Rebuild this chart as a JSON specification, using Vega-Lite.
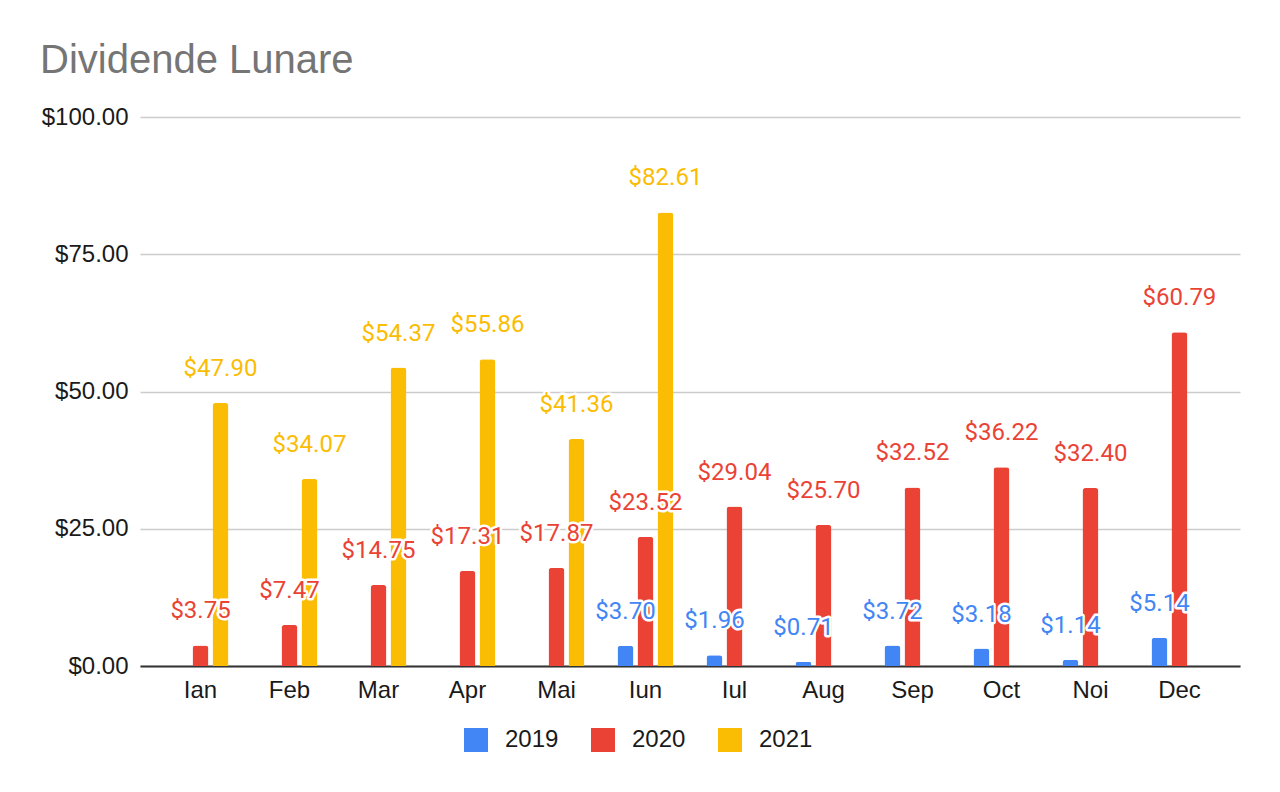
{
  "$schema": "https://vega.github.io/schema/vega-lite/v6.json",
  "width": 1100,
  "height": 549,
  "autosize": {"type": "none"},
  "padding": {"left": 140, "top": 117, "right": 40, "bottom": 126},
  "background": "white",
  "title": {
    "text": "Dividende Lunare",
    "anchor": "start",
    "frame": "group",
    "dx": -100,
    "offset": 36,
    "dy": 44,
    "baseline": "alphabetic",
    "font": "Liberation Sans",
    "fontSize": 40,
    "fontWeight": "normal",
    "color": "#757575"
  },
  "config": {
    "view": {"stroke": null},
    "font": "Liberation Sans"
  },
  "data": {
    "values": [
      {"luna": "Ian", "an": "2020", "valoare": 3.75},
      {"luna": "Ian", "an": "2021", "valoare": 47.90},
      {"luna": "Feb", "an": "2020", "valoare": 7.47},
      {"luna": "Feb", "an": "2021", "valoare": 34.07},
      {"luna": "Mar", "an": "2020", "valoare": 14.75},
      {"luna": "Mar", "an": "2021", "valoare": 54.37},
      {"luna": "Apr", "an": "2020", "valoare": 17.31},
      {"luna": "Apr", "an": "2021", "valoare": 55.86},
      {"luna": "Mai", "an": "2020", "valoare": 17.87},
      {"luna": "Mai", "an": "2021", "valoare": 41.36},
      {"luna": "Iun", "an": "2019", "valoare": 3.70},
      {"luna": "Iun", "an": "2020", "valoare": 23.52},
      {"luna": "Iun", "an": "2021", "valoare": 82.61},
      {"luna": "Iul", "an": "2019", "valoare": 1.96},
      {"luna": "Iul", "an": "2020", "valoare": 29.04},
      {"luna": "Aug", "an": "2019", "valoare": 0.71},
      {"luna": "Aug", "an": "2020", "valoare": 25.70},
      {"luna": "Sep", "an": "2019", "valoare": 3.72},
      {"luna": "Sep", "an": "2020", "valoare": 32.52},
      {"luna": "Oct", "an": "2019", "valoare": 3.18},
      {"luna": "Oct", "an": "2020", "valoare": 36.22},
      {"luna": "Noi", "an": "2019", "valoare": 1.14},
      {"luna": "Noi", "an": "2020", "valoare": 32.40},
      {"luna": "Dec", "an": "2019", "valoare": 5.14},
      {"luna": "Dec", "an": "2020", "valoare": 60.79}
    ]
  },
  "encoding": {
    "x": {
      "field": "luna",
      "type": "nominal",
      "sort": ["Ian", "Feb", "Mar", "Apr", "Mai", "Iun", "Iul", "Aug", "Sep", "Oct", "Noi", "Dec"],
      "scale": {"paddingInner": 0.326, "paddingOuter": 0.343},
      "axis": {
        "title": null,
        "labelAngle": 0,
        "labelFont": "Liberation Sans",
        "labelFontSize": 24,
        "labelColor": "#1a1a1a",
        "labelPadding": 12,
        "ticks": false,
        "domain": true,
        "domainColor": "#333333",
        "domainWidth": 2,
        "grid": false
      }
    },
    "xOffset": {
      "field": "an",
      "type": "nominal",
      "scale": {"domain": ["2019", "2020", "2021"], "paddingInner": 0.2, "paddingOuter": 0.1}
    },
    "y": {
      "field": "valoare",
      "type": "quantitative",
      "scale": {"domain": [0, 100], "nice": false},
      "axis": {
        "title": null,
        "values": [0, 25, 50, 75, 100],
        "format": "$,.2f",
        "labelFont": "Liberation Sans",
        "labelFontSize": 24,
        "labelColor": "#1a1a1a",
        "labelPadding": 12,
        "ticks": false,
        "domain": false,
        "grid": true,
        "gridColor": "#cccccc",
        "gridWidth": 1.5
      }
    }
  },
  "layer": [
    {
      "mark": {"type": "bar", "cornerRadiusTopLeft": 3, "cornerRadiusTopRight": 3},
      "encoding": {
        "color": {
          "field": "an",
          "type": "nominal",
          "scale": {"domain": ["2019", "2020", "2021"], "range": ["#4285F4", "#EA4335", "#FBBC04"]},
          "legend": {
            "title": null,
            "orient": "none",
            "direction": "horizontal",
            "legendX": 324,
            "legendY": 611,
            "symbolType": "square",
            "symbolSize": 576,
            "symbolStrokeWidth": 0,
            "labelFont": "Liberation Sans",
            "labelFontSize": 24,
            "labelColor": "#1a1a1a",
            "labelOffset": 17,
            "columnPadding": 32
          }
        }
      }
    },
    {
      "mark": {
        "type": "text",
        "baseline": "middle",
        "align": "center",
        "dy": -34,
        "font": "Roboto",
        "fontSize": 24,
        "stroke": "white",
        "strokeWidth": 5,
        "strokeJoin": "round",
        "fill": "white"
      },
      "encoding": {
        "text": {"field": "valoare", "type": "quantitative", "format": "$.2f"}
      }
    },
    {
      "mark": {
        "type": "text",
        "baseline": "middle",
        "align": "center",
        "dy": -34,
        "font": "Roboto",
        "fontSize": 24
      },
      "encoding": {
        "text": {"field": "valoare", "type": "quantitative", "format": "$.2f"},
        "color": {"field": "an", "type": "nominal"}
      }
    }
  ]
}
